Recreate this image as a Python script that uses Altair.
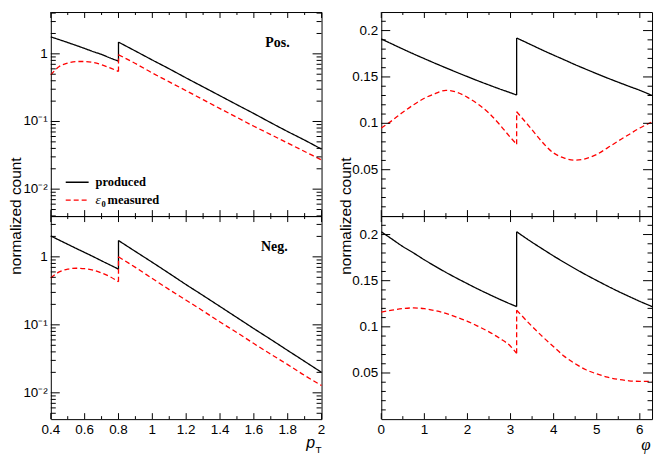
import altair as alt
import pandas as pd

# ---------------- data ----------------
PT_LO = [0.4, 0.45, 0.5, 0.55, 0.6, 0.65, 0.7, 0.75, 0.8]
PT_HI = [0.8, 0.9, 1.0, 1.1, 1.2, 1.3, 1.4, 1.5, 1.6, 1.7, 1.8, 1.9, 2.0]

POS_PT_PROD_LO = [1.78, 1.62, 1.47, 1.33, 1.20, 1.08, 0.98, 0.87, 0.78]
POS_PT_PROD_HI = [1.49, 1.10, 0.81, 0.60, 0.44, 0.325, 0.24, 0.177, 0.131, 0.096, 0.071, 0.053, 0.039]
POS_PT_MEAS_LO = [0.49, 0.65, 0.73, 0.77, 0.77, 0.745, 0.69, 0.62, 0.55]
POS_PT_MEAS_HI = [0.97, 0.72, 0.52, 0.385, 0.285, 0.21, 0.155, 0.115, 0.085, 0.064, 0.048, 0.036, 0.027]

NEG_PT_PROD_LO = [2.03, 1.76, 1.53, 1.33, 1.16, 1.01, 0.875, 0.76, 0.66]
NEG_PT_PROD_HI = [1.74, 1.20, 0.83, 0.57, 0.39, 0.27, 0.186, 0.128, 0.088, 0.061, 0.042, 0.029, 0.020]
NEG_PT_MEAS_LO = [0.49, 0.60, 0.66, 0.68, 0.67, 0.64, 0.58, 0.51, 0.43]
NEG_PT_MEAS_HI = [1.0, 0.70, 0.48, 0.33, 0.23, 0.16, 0.11, 0.077, 0.053, 0.037, 0.026, 0.018, 0.0128]

PHI_LO = [0.0, 0.25, 0.5, 0.75, 1.0, 1.25, 1.5, 1.75, 2.0, 2.25, 2.5, 2.75, 3.0, 3.14159]
PHI_HI = [3.14159, 3.5, 3.75, 4.0, 4.25, 4.5, 4.75, 5.0, 5.25, 5.5, 5.75, 6.0, 6.28319]

POS_PHI_PROD_LO = [0.191, 0.1855, 0.1801, 0.1748, 0.1697, 0.1647, 0.1598, 0.155, 0.1503, 0.1457, 0.1413, 0.137, 0.1329, 0.1305]
POS_PHI_PROD_HI = [0.192, 0.1842, 0.1787, 0.1735, 0.1684, 0.1632, 0.1583, 0.1535, 0.1488, 0.1443, 0.1399, 0.1356, 0.130]
POS_PHI_MEAS_LO = [0.095, 0.103, 0.112, 0.120, 0.127, 0.132, 0.1355, 0.1335, 0.128, 0.1205, 0.111, 0.0985, 0.0847, 0.0775]
POS_PHI_MEAS_HI = [0.1125, 0.093, 0.079, 0.068, 0.0625, 0.0603, 0.062, 0.0665, 0.0735, 0.081, 0.088, 0.095, 0.1015]

NEG_PHI_PROD_LO = [0.203, 0.195, 0.187, 0.180, 0.1726, 0.1657, 0.159, 0.1527, 0.1467, 0.1408, 0.1352, 0.1298, 0.1247, 0.122]
NEG_PHI_PROD_HI = [0.203, 0.1916, 0.1841, 0.1767, 0.1697, 0.1629, 0.1564, 0.1502, 0.1442, 0.1384, 0.1329, 0.1276, 0.122]
NEG_PHI_MEAS_LO = [0.116, 0.118, 0.1198, 0.1205, 0.1197, 0.1175, 0.1145, 0.1105, 0.106, 0.1005, 0.0946, 0.0875, 0.079, 0.0714]
NEG_PHI_MEAS_HI = [0.118, 0.1005, 0.089, 0.0785, 0.068, 0.060, 0.0535, 0.049, 0.0455, 0.043, 0.0415, 0.041, 0.041]

SERIES = ["produced", "measured"]

PT_MAJOR = [0.4, 0.6, 0.8, 1.0, 1.2, 1.4, 1.6, 1.8, 2.0]
PT_LABELS = ["0.4", "0.6", "0.8", "1", "1.2", "1.4", "1.6", "1.8", "2"]
PT_MINOR = [0.5, 0.7, 0.9, 1.1, 1.3, 1.5, 1.7, 1.9]
PHI_MAJOR = [0, 1, 2, 3, 4, 5, 6]
PHI_LABELS = ["0", "1", "2", "3", "4", "5", "6"]
PHI_MINOR = [0.5, 1.5, 2.5, 3.5, 4.5, 5.5]
LOG_MAJOR = [0.01, 0.1, 1.0]
LOG_LABELS = ["10⁻²", "10⁻¹", "1"]
LOG_MINOR = [0.005, 0.006, 0.007, 0.008, 0.009,
             0.02, 0.03, 0.04, 0.05, 0.06, 0.07, 0.08, 0.09,
             0.2, 0.3, 0.4, 0.5, 0.6, 0.7, 0.8, 0.9, 2.0, 3.0, 4.0]
LIN_MAJOR = [0.05, 0.1, 0.15, 0.2]
LIN_LABELS = ["0.05", "0.1", "0.15", "0.2"]
LIN_MINOR = [0.01, 0.02, 0.03, 0.04, 0.06, 0.07, 0.08, 0.09, 0.11, 0.12,
             0.13, 0.14, 0.16, 0.17, 0.18, 0.19, 0.21]

Y_TITLE = "normalized count"

W = 272
H_TOP = 205
H_BOT = 204

SANS = "Liberation Sans"
SERIF = "Liberation Serif"
LABEL_SIZE = 13.5


def panel_df(xlo, xhi, prod_lo, prod_hi, meas_lo, meas_hi):
    rows = []
    for name, lo, hi in ((SERIES[0], prod_lo, prod_hi), (SERIES[1], meas_lo, meas_hi)):
        for x, y in zip(xlo, lo):
            rows.append(dict(x=x, y=y, series=name, seg=name + "_a"))
        rows.append(dict(x=xlo[-1], y=lo[-1], series=name, seg=name + "_j"))
        rows.append(dict(x=xhi[0], y=hi[0], series=name, seg=name + "_j"))
        for x, y in zip(xhi, hi):
            rows.append(dict(x=x, y=y, series=name, seg=name + "_b"))
    return pd.DataFrame(rows)


def tick_df(values):
    # each tick is a short segment with two ends (0 = at the frame, 1 = inner end)
    return pd.DataFrame({"tv": [v for v in values for _ in (0, 1)],
                         "end": [e for _ in values for e in (0, 1)]})


def xticks(values, xs, y_frame, y_inner):
    return alt.Chart(tick_df(values)).mark_line(color="black", strokeWidth=1).encode(
        x=alt.X("tv:Q", scale=xs, axis=None),
        y=alt.Y("end:Q", scale=alt.Scale(domain=[0, 1], range=[y_frame, y_inner]), axis=None),
        detail="tv:N",
    )


def yticks(values, ys, x_frame, x_inner):
    return alt.Chart(tick_df(values)).mark_line(color="black", strokeWidth=1).encode(
        x=alt.X("end:Q", scale=alt.Scale(domain=[0, 1], range=[x_frame, x_inner]), axis=None),
        y=alt.Y("tv:Q", scale=ys, axis=None),
        detail="tv:N",
    )


def xlabels(values, labels, xs, y):
    return alt.Chart(pd.DataFrame({"lv": values, "t": labels})).mark_text(
        font=SANS, fontSize=LABEL_SIZE, color="black", align="center", baseline="top"
    ).encode(x=alt.X("lv:Q", scale=xs, axis=None), y=alt.value(y), text="t:N")


def ylabels(values, labels, ys, x):
    return alt.Chart(pd.DataFrame({"lv": values, "t": labels})).mark_text(
        font=SANS, fontSize=LABEL_SIZE, color="black", align="right", baseline="middle"
    ).encode(y=alt.Y("lv:Q", scale=ys, axis=None), x=alt.value(x), text="t:N")


def text_layer(label, x, y, font, size, weight="normal", style="normal",
               align="left", baseline="alphabetic", angle=0):
    return alt.Chart(pd.DataFrame({"label": [label]})).mark_text(
        font=font, fontSize=size, fontWeight=weight, fontStyle=style,
        align=align, baseline=baseline, color="black", angle=angle
    ).encode(text="label:N", x=alt.value(x), y=alt.value(y))


def legend_rule(x1, x2, y, color, dash):
    return alt.Chart(pd.DataFrame({"k": [0]})).mark_rule(
        color=color, strokeWidth=1.3, strokeDash=dash
    ).encode(x=alt.value(x1), x2=alt.value(x2), y=alt.value(y))


def panel(df, xdom, ydom, ytype, xmaj, xlabs, xmin, ymaj, ylabs, ymin, height,
          show_xlabels, ymaj_len, ymin_len, extra_layers, ytitle=False):
    xs = alt.Scale(domain=xdom, nice=False, zero=False)
    if ytype == "log":
        ys = alt.Scale(type="log", domain=ydom, nice=False)
    else:
        ys = alt.Scale(domain=ydom, nice=False, zero=False)

    lines = alt.Chart(df).mark_line(interpolate="monotone", strokeWidth=1.3).encode(
        x=alt.X("x:Q", scale=xs, axis=None),
        y=alt.Y("y:Q", scale=ys, axis=None),
        color=alt.Color("series:N", scale=alt.Scale(domain=SERIES, range=["black", "#ff0000"]),
                        legend=None),
        strokeDash=alt.StrokeDash("series:N",
                                  scale=alt.Scale(domain=SERIES, range=[[1, 0], [5, 3]]),
                                  legend=None),
        detail="seg:N",
    )

    layers = [lines, ylabels(ymaj, ylabs, ys, -3)]
    if show_xlabels:
        layers.append(xlabels(xmaj, xlabs, xs, height + 4))
    if ytitle:
        layers.append(text_layer(Y_TITLE, -35, height, SANS, 15.5, align="center",
                                 baseline="middle", angle=270))
    layers.extend(extra_layers)
    layers.extend([
        xticks(xmaj, xs, height, height - 6),
        xticks(xmin, xs, height, height - 3),
        xticks(xmaj, xs, 0, 6),
        xticks(xmin, xs, 0, 3),
        yticks(ymaj, ys, 0, ymaj_len),
        yticks(ymin, ys, 0, ymin_len),
        yticks(ymaj, ys, W, W - ymaj_len),
        yticks(ymin, ys, W, W - ymin_len),
    ])
    return alt.layer(*layers).resolve_scale(
        x="independent", y="independent"
    ).properties(width=W, height=height)


legend_layers = [
    legend_rule(15, 38, 171, "black", [1, 0]),
    legend_rule(15, 38, 189, "#ff0000", [5, 3]),
    text_layer("produced", 45, 175, SERIF, 12.5, weight="bold"),
    text_layer("ε", 45, 193, SERIF, 13.5, style="italic"),
    text_layer("0", 51, 196, SERIF, 8.5, weight="bold"),
    text_layer("measured", 57, 193, SERIF, 12.5, weight="bold"),
    text_layer("Pos.", 240, 35, SERIF, 14, weight="bold", align="right"),
]

tl = panel(panel_df(PT_LO, PT_HI, POS_PT_PROD_LO, POS_PT_PROD_HI, POS_PT_MEAS_LO, POS_PT_MEAS_HI),
           [0.4, 2.0], [0.0040, 4.15], "log", PT_MAJOR, PT_LABELS, PT_MINOR,
           LOG_MAJOR, LOG_LABELS, LOG_MINOR, H_TOP, False, 9, 5, legend_layers, ytitle=True)

bl = panel(panel_df(PT_LO, PT_HI, NEG_PT_PROD_LO, NEG_PT_PROD_HI, NEG_PT_MEAS_LO, NEG_PT_MEAS_HI),
           [0.4, 2.0], [0.0041, 3.98], "log", PT_MAJOR, PT_LABELS, PT_MINOR,
           LOG_MAJOR, LOG_LABELS, LOG_MINOR, H_BOT, True, 9, 5,
           [text_layer("Neg.", 238, 35, SERIF, 14, weight="bold", align="right"),
            text_layer("p", 261, 233, SANS, 16, style="italic", align="center"),
            text_layer("T", 269, 238, SANS, 10, align="center")])

tr = panel(panel_df(PHI_LO, PHI_HI, POS_PHI_PROD_LO, POS_PHI_PROD_HI, POS_PHI_MEAS_LO, POS_PHI_MEAS_HI),
           [0, 6.28319], [0, 0.22], "linear", PHI_MAJOR, PHI_LABELS, PHI_MINOR,
           LIN_MAJOR, LIN_LABELS, LIN_MINOR, H_TOP, False, 9, 4.5, [], ytitle=True)

br = panel(panel_df(PHI_LO, PHI_HI, NEG_PHI_PROD_LO, NEG_PHI_PROD_HI, NEG_PHI_MEAS_LO, NEG_PHI_MEAS_HI),
           [0, 6.28319], [0, 0.22], "linear", PHI_MAJOR, PHI_LABELS, PHI_MINOR,
           LIN_MAJOR, LIN_LABELS, LIN_MINOR, H_BOT, True, 9, 4.5,
           [text_layer("φ", 266, 235, SERIF, 17, style="italic", align="center")])

chart = alt.concat(tl, tr, bl, br, columns=2, spacing={"row": 0, "column": 60}, bounds="flush").properties(
    padding={"left": 0, "top": 0, "right": 0, "bottom": 0},
    background="white",
).configure_view(
    stroke="black", strokeWidth=1
)

chart.save("out.html", embed_options={"renderer": "svg", "actions": False})
